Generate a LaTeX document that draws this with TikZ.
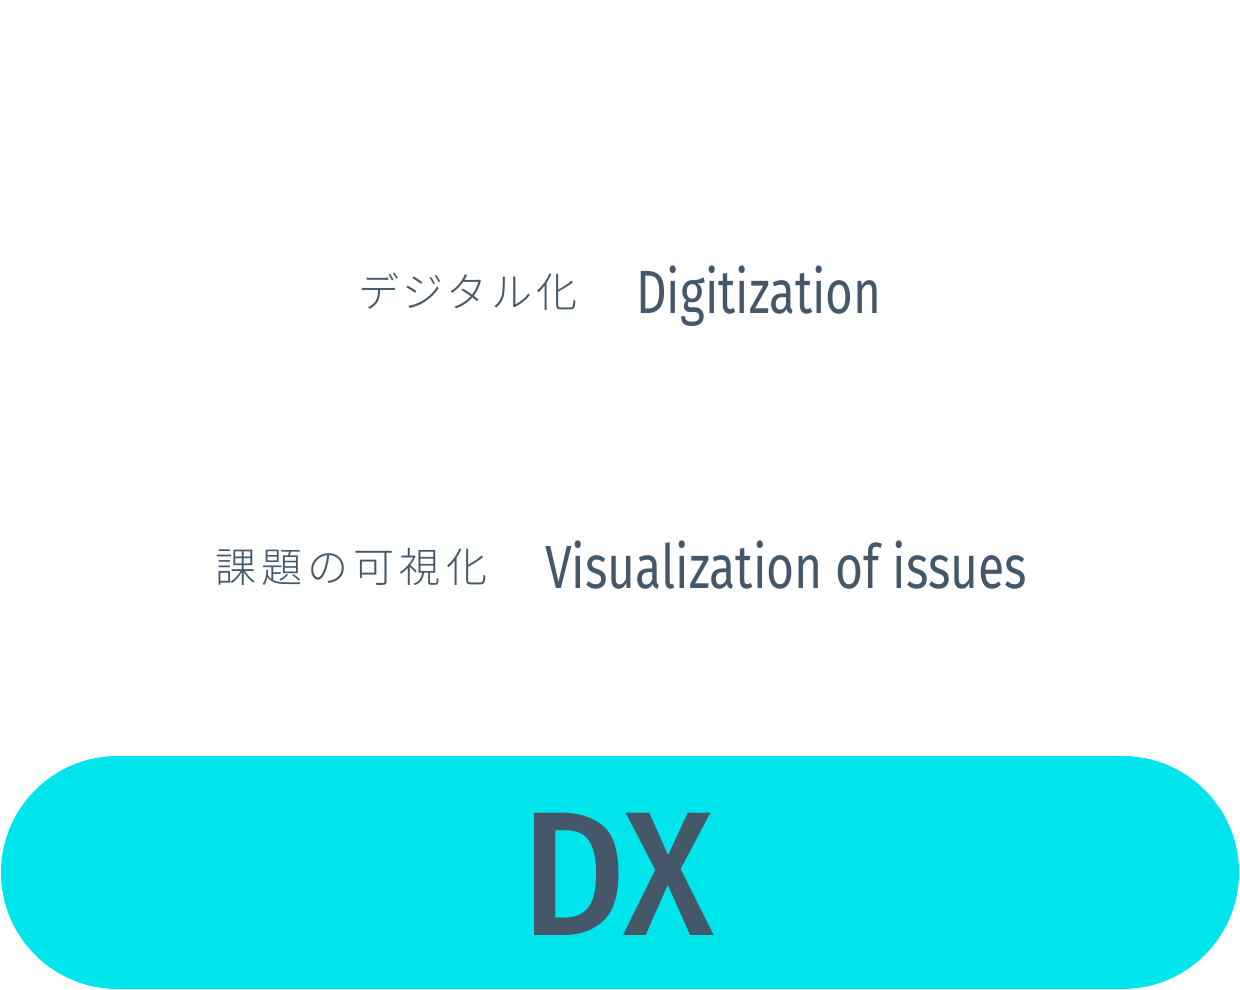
\documentclass[tikz,border=0pt]{standalone}
\usepackage{fontspec}
\setmainfont{Fira Sans}
\newfontfamily\firamed{Fira Sans Medium}
\newfontfamily\cjka[LetterSpace=9]{Noto Sans CJK JP Light}
\newfontfamily\cjkb[LetterSpace=12.7]{Noto Sans CJK JP Light}
\definecolor{txt}{HTML}{44586A}
\definecolor{dxcyan}{HTML}{00E5EC}
\begin{document}
\begin{tikzpicture}[x=1pt,y=-1pt,
  en/.style={inner sep=0pt, anchor=base west, text=txt, font=\fontsize{61}{61}\selectfont},
  jp/.style={inner sep=0pt, anchor=west, text=txt}]
\useasboundingbox (0,0) rectangle (1240,990);
\fill[white] (0,0) rectangle (1240,990);
\fill[dxcyan, rounded corners=116.5pt] (1,756) rectangle (1239,989);
\node[jp, font=\cjka\fontsize{41}{41}\selectfont] (j1) at (358,292) {デジタル化};
\node[en] (e1) at (636,313) {\scalebox{0.78}[1]{Digitization}};
\node[jp, font=\cjkb\fontsize{41}{41}\selectfont] (j2) at (215,567) {課題の可視化};
\node[en] (e2) at (545,588) {\scalebox{0.788}[1]{Visualization of issues}};
\node[inner sep=0pt, anchor=base, text=txt, font=\firamed\fontsize{177}{177}\selectfont] (dx) at (617.5,935) {\scalebox{0.91}[1]{DX}};
\end{tikzpicture}
\end{document}
